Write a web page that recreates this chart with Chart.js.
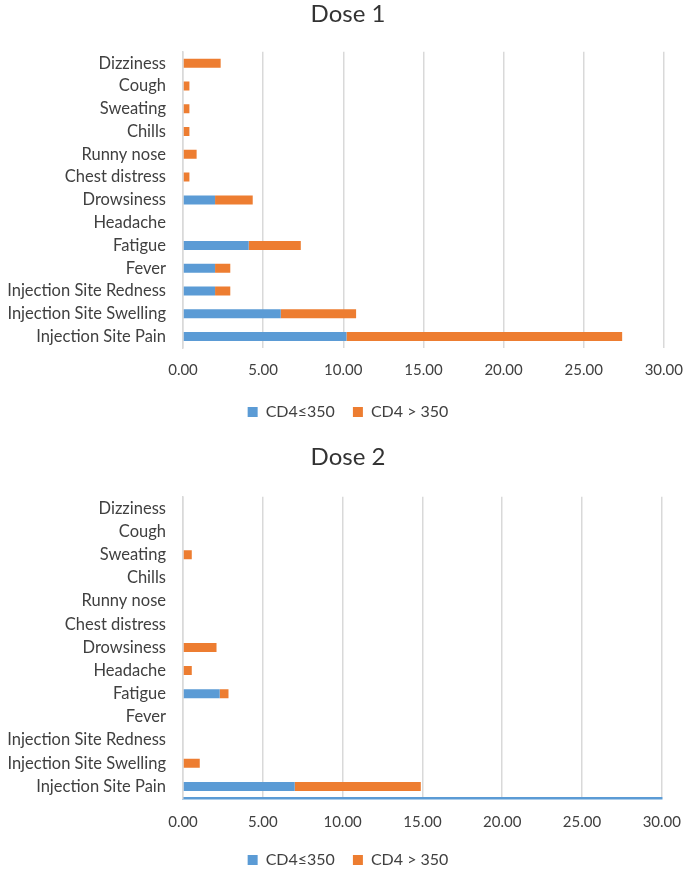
<!DOCTYPE html>
<html lang="en">
<head>
    <meta charset="UTF-8">
    <title>Dose 1 / Dose 2</title>
    <style>
        body { margin: 0; background: #fff; overflow: hidden; }
        .chart-box { position: absolute; left: 0; width: 696px; }
    </style>
</head>
<body>
<script src="https://cdn.jsdelivr.net/npm/chart.js@4.4.0/dist/chart.umd.min.js"></script>

<div class="chart-box" style="top: 0; height: 430px;">
    <canvas id="dose1"></canvas>
</div>
<div class="chart-box" style="top: 443px; height: 435px;">
    <canvas id="dose2"></canvas>
</div>
<script>
    // categories listed bottom -> top (axis is reversed)
    const symptoms = ['Injection Site Pain', 'Injection Site Swelling', 'Injection Site Redness', 'Fever',
        'Fatigue', 'Headache', 'Drowsiness', 'Chest distress', 'Runny nose', 'Chills', 'Sweating', 'Cough', 'Dizziness']

    const dose1Low = [10.2, 6.1, 2.0, 2.0, 4.1, 0, 2.0, 0, 0, 0, 0, 0, 0]
    const dose1High = [17.2, 4.7, 0.95, 0.95, 3.25, 0, 2.35, 0.4, 0.85, 0.4, 0.4, 0.4, 2.35]

    const dose2Low = [7.0, 0, 0, 0, 2.3, 0, 0, 0, 0, 0, 0, 0, 0]
    const dose2High = [7.9, 1.05, 0, 0, 0.55, 0.55, 2.1, 0, 0, 0, 0.55, 0, 0]

    const seriesNames = ['CD4≤350', 'CD4 > 350']
    const xTicks = [0, 5, 10, 15, 20, 25, 30]

    const font = "'Lato', 'Open Sans', sans-serif"
    const blue = '#5B9BD5'
    const orange = '#ED7D31'
    const gridGray = '#d9d9d9'

    // titleGap / axisHeight / tickPad position the plot inside each canvas
    function makeChart(id, title, low, high, titleGap, axisHeight, tickPad, bottomLine) {
        const ctx = document.getElementById(id).getContext('2d')
        return new Chart(ctx, {
            type: 'bar',
            data: {
                labels: symptoms,
                datasets: [
                    {label: seriesNames[0], data: low, backgroundColor: blue, barThickness: 9, inflateAmount: 0},
                    {label: seriesNames[1], data: high, backgroundColor: orange, barThickness: 9, inflateAmount: 0}
                ]
            },
            options: {
                indexAxis: 'y',
                responsive: true,
                maintainAspectRatio: false,
                animation: false,
                layout: {padding: 0},
                plugins: {
                    title: {
                        display: true,
                        text: title,
                        color: '#333333',
                        font: {family: font, size: 24, weight: 'normal'},
                        padding: {top: 0, bottom: titleGap}
                    },
                    legend: {
                        position: 'bottom',
                        labels: {
                            color: '#404040',
                            font: {family: font, size: 16},
                            boxWidth: 10,
                            boxHeight: 10,
                            padding: 18
                        }
                    },
                    tooltip: {enabled: false}
                },
                scales: {
                    x: {
                        stacked: true,
                        min: 0,
                        max: 30,
                        afterBuildTicks: axis => { axis.ticks = xTicks.map(v => ({value: v})) },
                        afterFit: axis => { axis.height = axisHeight },
                        grid: {color: gridGray, lineWidth: 1.5, drawTicks: false},
                        border: bottomLine ? {display: true, color: blue, width: 2.5} : {display: false},
                        ticks: {
                            color: '#404040',
                            font: {family: font, size: 15},
                            padding: tickPad,
                            callback: v => v.toFixed(2)
                        }
                    },
                    y: {
                        stacked: true,
                        reverse: true,
                        afterFit: axis => { axis.width = 183 },
                        grid: {display: false},
                        border: {display: true, color: gridGray, width: 1.5},
                        ticks: {
                            color: '#404040',
                            font: {family: font, size: 16.5},
                            padding: 9,
                            autoSkip: false
                        }
                    }
                }
            }
        })
    }

    makeChart('dose1', 'Dose 1', dose1Low, dose1High, 23, 38, 13, false)
    makeChart('dose2', 'Dose 2', dose2Low, dose2High, 25, 36, 15, true)
</script>
</body>
</html>
